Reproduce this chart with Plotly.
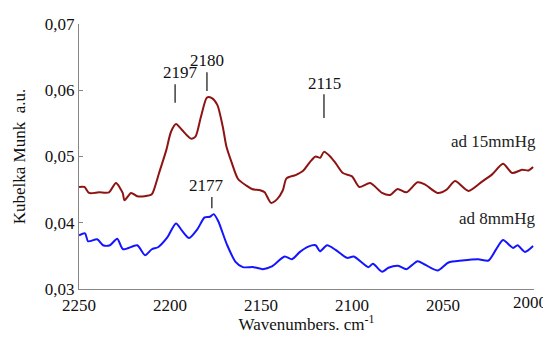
import plotly.graph_objects as go

# Wavenumbers (cm-1) and Kubelka-Munk values
wn_15 = [2250, 2247, 2244.5, 2239, 2233.5, 2229.7, 2226, 2225, 2221.4, 2218, 2214, 2210, 2208.8,
         2206, 2202, 2199.5, 2196.7, 2193.4, 2188.5, 2186, 2183, 2179.7, 2177, 2174, 2171, 2169,
         2166, 2162.6, 2158, 2155, 2150.5, 2148, 2144.5, 2141, 2138, 2136, 2131, 2127, 2123,
         2120, 2117.5, 2115.4, 2112, 2109, 2105, 2100, 2096, 2090, 2083.5, 2079, 2075, 2070,
         2064, 2060, 2053, 2048, 2043.4, 2036, 2028.6, 2023, 2017, 2012, 2006.6, 2003, 2000.5]
ku_15 = [0.0454, 0.0454, 0.0445, 0.0446, 0.0446, 0.0460, 0.0445, 0.0434, 0.0445, 0.0440, 0.0440,
         0.0443, 0.0450, 0.0475, 0.0510, 0.0537, 0.0549, 0.0540, 0.0527, 0.0530, 0.0560, 0.0589,
         0.0588, 0.0578, 0.0545, 0.0515, 0.0490, 0.0466, 0.0456, 0.0451, 0.0449, 0.0446, 0.0430,
         0.0436, 0.0449, 0.0467, 0.0472, 0.0478, 0.0492, 0.0500, 0.0498, 0.0507, 0.0500, 0.0490,
         0.0475, 0.0470, 0.0454, 0.0460, 0.0445, 0.0442, 0.0451, 0.0446, 0.0461, 0.0458, 0.0445,
         0.0450, 0.0463, 0.0448, 0.0462, 0.0473, 0.0489, 0.0475, 0.0480, 0.0479, 0.0484]

wn_8 = [2250, 2246.7, 2245, 2240, 2236.8, 2233, 2229, 2225.8, 2218, 2213.7, 2210, 2206.6, 2201.7,
        2196.7, 2193.4, 2189.5, 2185, 2181, 2178, 2176, 2173.6, 2168.7, 2164, 2160, 2154, 2149,
        2144, 2137, 2133, 2128.6, 2124, 2120, 2117.6, 2113.7, 2109, 2102.7, 2099, 2091, 2088.5,
        2083.5, 2080, 2074.7, 2070, 2064, 2060, 2053, 2047, 2039.5, 2030.7, 2025, 2021, 2017,
        2011.5, 2009, 2005, 2000.5]
ku_8 = [0.0381, 0.0384, 0.0372, 0.0375, 0.0366, 0.0366, 0.0376, 0.0360, 0.0366, 0.0351, 0.0360,
        0.0363, 0.0377, 0.0399, 0.0388, 0.0377, 0.0390, 0.0408, 0.0409, 0.0413, 0.0403, 0.0367,
        0.0341, 0.0333, 0.0333, 0.0330, 0.0334, 0.0349, 0.0345, 0.0356, 0.0364, 0.0366, 0.0357,
        0.0366, 0.0359, 0.0347, 0.0349, 0.0333, 0.0338, 0.0326, 0.0332, 0.0335, 0.0330, 0.0342,
        0.0337, 0.0328, 0.0340, 0.0343, 0.0345, 0.0343, 0.0359, 0.0374, 0.0362, 0.0366, 0.0356,
        0.0365]

y_ticks = [0.03, 0.04, 0.05, 0.06, 0.07]
y_tick_labels = ["0,03", "0,04", "0,05", "0,06", "0,07"]
x_ticks = [2250, 2200, 2150, 2100, 2050]
x_tick_labels = ["2250", "2200", "2150", "2100", "2050"]
x_last_tick = 2000
x_last_label = "2000"

# Peak labels: (label, line x, text x, text y, line y0, line y1)
peaks = [
    ("2197", 2197.2, 2194.5, 0.0627, 0.0581, 0.0609),
    ("2180", 2179.7, 2179.7, 0.0645, 0.0599, 0.0627),
    ("2115", 2115.4, 2115.0, 0.0610, 0.0558, 0.0594),
    ("2177", 2177.0, 2180.0, 0.0456, 0.0422, 0.0439),
]

RED = "#8E1414"
BLUE = "#1414FF"
FONT = "Liberation Serif, Times New Roman, serif"

fig = go.Figure()
fig.add_trace(go.Scatter(x=wn_15, y=ku_15, mode="lines",
                         line=dict(color=RED, width=2, shape="spline", smoothing=0.7),
                         showlegend=False, hoverinfo="skip"))
fig.add_trace(go.Scatter(x=wn_8, y=ku_8, mode="lines",
                         line=dict(color=BLUE, width=2, shape="spline", smoothing=0.7),
                         showlegend=False, hoverinfo="skip"))

for label, lx, tx, ty, y0, y1 in peaks:
    fig.add_shape(type="line", x0=lx, x1=lx, y0=y0, y1=y1, xref="x", yref="y",
                  line=dict(color="#222222", width=1.3))
    fig.add_annotation(x=tx, y=ty, text=label, showarrow=False, xref="x", yref="y",
                       font=dict(family=FONT, size=17, color="#111111"),
                       xanchor="center", yanchor="middle")

fig.add_annotation(x=2000, y=0.0523, text="ad 15mmHg", showarrow=False, xref="x", yref="y",
                   xanchor="right", yanchor="middle", xshift=4,
                   font=dict(family=FONT, size=17, color="#222222"))
fig.add_annotation(x=2000, y=0.0406, text="ad 8mmHg", showarrow=False, xref="x", yref="y",
                   xanchor="right", yanchor="middle", xshift=4,
                   font=dict(family=FONT, size=17, color="#222222"))

# last x tick label drawn as an annotation so it stays inside the window
fig.add_annotation(x=x_last_tick, y=0, xref="x", yref="paper", text=x_last_label,
                   showarrow=False, xanchor="right", yanchor="top", xshift=15, yshift=-2,
                   font=dict(family=FONT, size=17, color="#111111"))

# The page body adds an 8px margin, so the figure is sized to the remaining window
fig.update_layout(
    width=543, height=326,
    margin=dict(l=71, r=17, t=16, b=45),
    paper_bgcolor="white", plot_bgcolor="white",
    font=dict(family=FONT, size=17, color="#111111"),
    xaxis=dict(range=[2250, 2000], tickvals=x_ticks, ticktext=x_tick_labels,
               automargin=False,
               showgrid=False, zeroline=False, showline=True, linecolor="#868686",
               linewidth=1.3, ticks="", tickfont=dict(size=17),
               title=dict(text="Wavenumbers. cm<sup>-1</sup>",
                          font=dict(size=17), standoff=9)),
    yaxis=dict(range=[0.03, 0.07], tickvals=y_ticks, ticktext=y_tick_labels,
               automargin=False,
               showgrid=False, zeroline=False, showline=True, linecolor="#868686",
               linewidth=1.3, ticks="inside", ticklen=4, tickcolor="#868686",
               tickfont=dict(size=17),
               title=dict(text="Kubelka Munk  a.u.", font=dict(size=17), standoff=14)),
)

fig.write_html("out.html")
